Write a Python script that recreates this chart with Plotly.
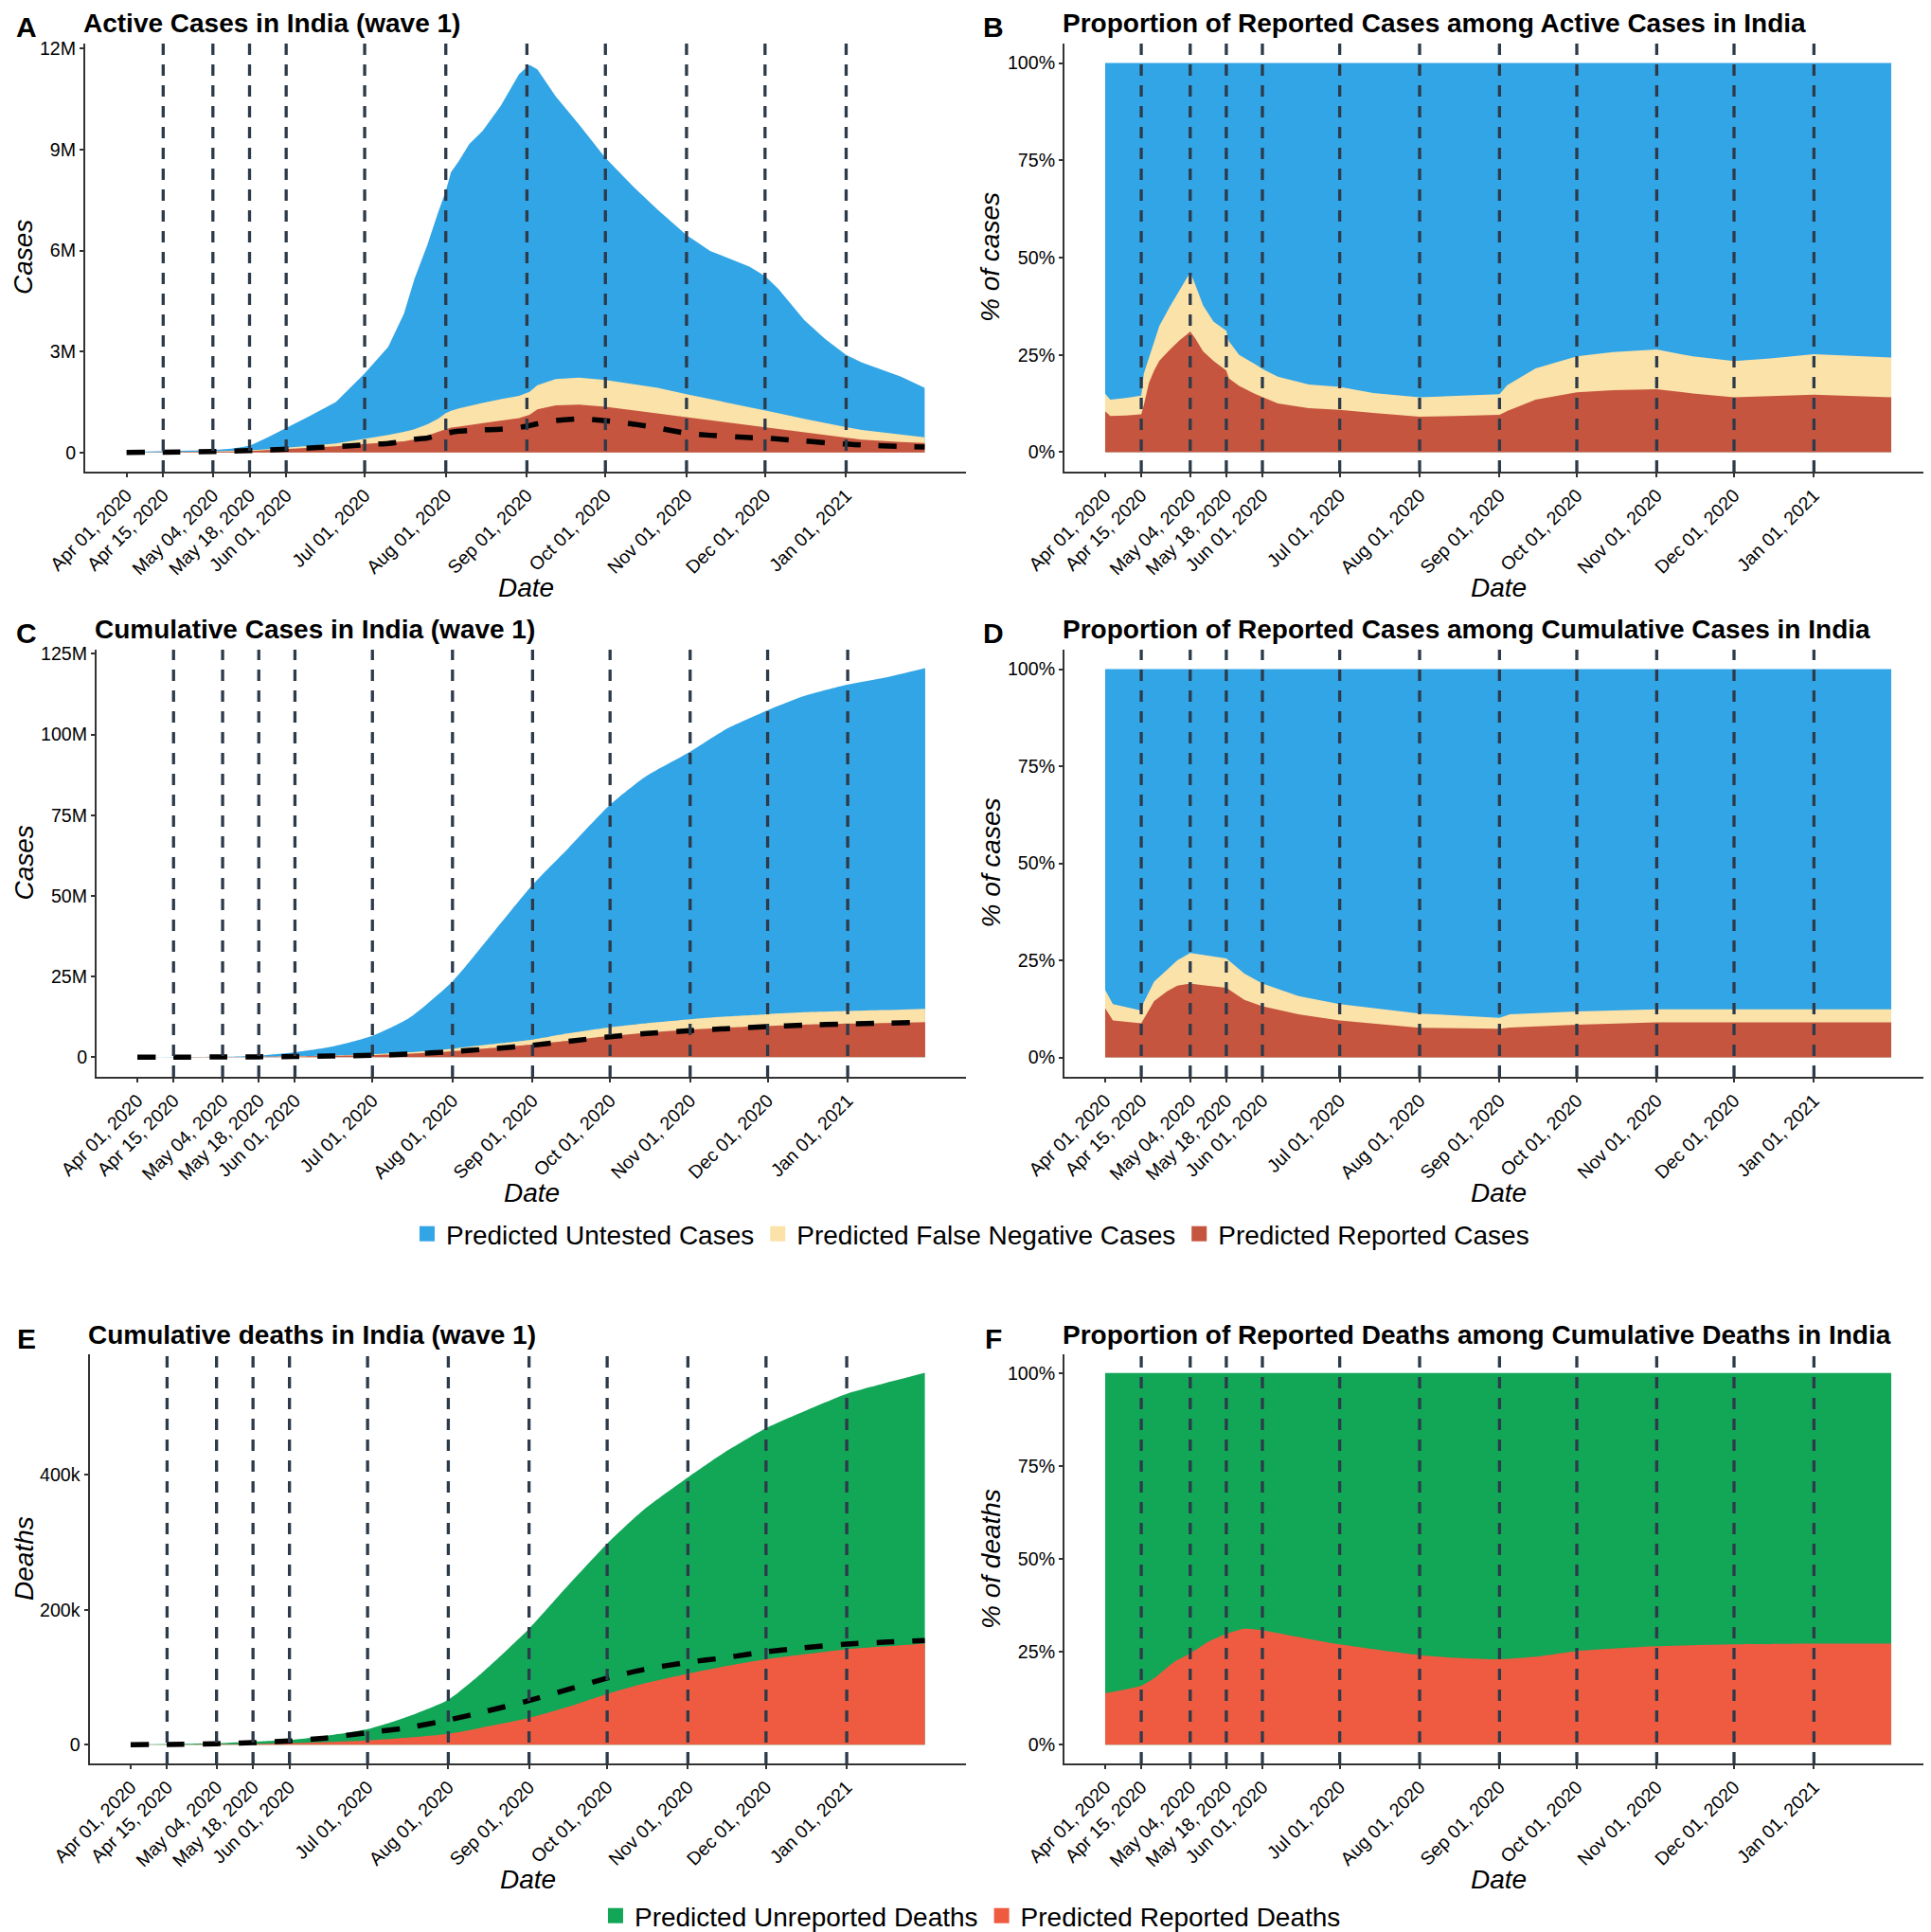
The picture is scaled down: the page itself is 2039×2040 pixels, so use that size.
import plotly.graph_objects as go

W, H = 2039, 2040
FONT = "Liberation Sans, Arial, sans-serif"

# ---------------- axis ticks / event dates ----------------
TICK_DATES = ["2020-04-01", "2020-04-15", "2020-05-04", "2020-05-18", "2020-06-01",
              "2020-07-01", "2020-08-01", "2020-09-01", "2020-10-01", "2020-11-01",
              "2020-12-01", "2021-01-01"]
TICK_LABELS = ["Apr 01, 2020", "Apr 15, 2020", "May 04, 2020", "May 18, 2020", "Jun 01, 2020",
               "Jul 01, 2020", "Aug 01, 2020", "Sep 01, 2020", "Oct 01, 2020", "Nov 01, 2020",
               "Dec 01, 2020", "Jan 01, 2021"]
EVENT_DATES = ["2020-04-15", "2020-05-04", "2020-05-18", "2020-06-01", "2020-07-01",
               "2020-08-01", "2020-09-01", "2020-10-01", "2020-11-01", "2020-12-01",
               "2021-01-01"]
X_RANGE = ["2020-03-16 05:00", "2021-02-15 19:00"]

# ---------------- Panel A: active cases (millions, stack tops) ----------------
DATES_A = ["2020-04-01", "2020-04-15", "2020-05-04", "2020-05-11", "2020-05-18", "2020-05-25",
           "2020-06-01", "2020-06-10", "2020-06-20", "2020-07-01", "2020-07-10", "2020-07-16",
           "2020-07-20", "2020-07-25", "2020-07-29", "2020-08-01", "2020-08-03", "2020-08-06",
           "2020-08-10", "2020-08-15", "2020-08-22", "2020-08-29", "2020-09-02", "2020-09-05",
           "2020-09-12", "2020-09-21", "2020-10-01", "2020-10-12", "2020-10-21", "2020-11-01",
           "2020-11-10", "2020-11-25", "2020-12-01", "2020-12-06", "2020-12-16", "2020-12-24",
           "2021-01-01", "2021-01-07", "2021-01-22", "2021-01-31"]
active_total = [0.015, 0.03, 0.07, 0.11, 0.2, 0.45, 0.72, 1.08, 1.5, 2.35, 3.14, 4.12,
                5.15, 6.18, 7.12, 7.77, 8.33, 8.66, 9.17, 9.55, 10.3, 11.24, 11.52, 11.38,
                10.58, 9.74, 8.75, 7.87, 7.21, 6.46, 5.99, 5.52, 5.24, 4.87, 3.93, 3.37,
                2.90, 2.67, 2.25, 1.92]
active_fn_top = [0.0023, 0.0044, 0.032, 0.04, 0.062, 0.1, 0.152, 0.2, 0.27, 0.40, 0.52, 0.61,
                 0.69, 0.84, 1.0, 1.17, 1.24, 1.31, 1.39, 1.47, 1.58, 1.68, 1.80, 2.0,
                 2.18, 2.22, 2.15, 2.03, 1.92, 1.73, 1.59, 1.36, 1.26, 1.17, 1.0, 0.87,
                 0.75, 0.67, 0.52, 0.45]
active_reported = [0.0016, 0.003, 0.022, 0.025, 0.043, 0.07, 0.1, 0.14, 0.18, 0.25, 0.29, 0.33,
                   0.39, 0.5, 0.61, 0.70, 0.74, 0.77, 0.81, 0.86, 0.93, 1.02, 1.12, 1.28,
                   1.40, 1.42, 1.36, 1.25, 1.16, 1.03, 0.94, 0.80, 0.75, 0.69, 0.59, 0.5,
                   0.42, 0.38, 0.31, 0.28]
active_actual = [0.002, 0.01, 0.029, 0.04, 0.056, 0.075, 0.097, 0.133, 0.17, 0.227, 0.27, 0.33,
                 0.39, 0.43, 0.51, 0.57, 0.60, 0.63, 0.65, 0.67, 0.69, 0.74, 0.80, 0.85,
                 0.95, 1.00, 0.94, 0.84, 0.73, 0.57, 0.51, 0.44, 0.43, 0.40, 0.34, 0.29,
                 0.25, 0.22, 0.18, 0.16]

# ---------------- Panel B: % among active cases ----------------
DATES_B = ["2020-04-01", "2020-04-03", "2020-04-09", "2020-04-15", "2020-04-16", "2020-04-18",
           "2020-04-20", "2020-04-22", "2020-04-26", "2020-04-30", "2020-05-03", "2020-05-04",
           "2020-05-06", "2020-05-09", "2020-05-13", "2020-05-18", "2020-05-19", "2020-05-23",
           "2020-05-29", "2020-06-01", "2020-06-07", "2020-06-19", "2020-07-01", "2020-07-14",
           "2020-08-01", "2020-08-15", "2020-09-01", "2020-09-04", "2020-09-15", "2020-10-01",
           "2020-10-15", "2020-11-01", "2020-11-15", "2020-12-01", "2020-12-15", "2021-01-01",
           "2021-01-31"]
pct_active_fn_top = [15.0, 13.5, 13.9, 14.5, 20.2, 24.3, 28.4, 32.4, 37.3, 41.8, 45.0, 46.2,
                     43.0, 37.7, 33.6, 31.2, 28.5, 25.0, 22.7, 21.4, 19.4, 17.4, 16.8, 15.2,
                     14.1, 14.4, 14.9, 17.2, 21.5, 24.6, 25.7, 26.4, 24.6, 23.4, 24.1, 25.2,
                     24.3]
pct_active_reported = [10.5, 9.3, 9.4, 9.7, 12.1, 17.8, 21.0, 23.5, 26.3, 28.8, 30.4, 31.0,
                       29.2, 25.9, 23.5, 21.0, 19.0, 17.0, 15.0, 14.1, 12.5, 11.3, 10.9, 10.1,
                       9.1, 9.3, 9.6, 10.6, 13.5, 15.4, 15.9, 16.2, 15.1, 14.1, 14.4, 14.8,
                       14.1]

# ---------------- Panel C: cumulative cases (millions, stack tops) ----------------
DATES_C = ["2020-04-01", "2020-04-15", "2020-05-04", "2020-05-18", "2020-06-01", "2020-06-15",
           "2020-07-01", "2020-07-15", "2020-08-01", "2020-08-15", "2020-09-01", "2020-09-15",
           "2020-10-01", "2020-10-15", "2020-11-01", "2020-11-15", "2020-12-01", "2020-12-15",
           "2021-01-01", "2021-01-15", "2021-01-31"]
cum_total = [0.01, 0.06, 0.15, 0.4, 1.5, 3.2, 6.6, 12.0, 23.5, 36.9, 53.4, 64.9,
             78.2, 87.1, 94.7, 101.7, 107.5, 111.9, 115.5, 117.6, 120.6]
cum_fn_top = [0.0017, 0.007, 0.04, 0.10, 0.29, 0.5, 0.9, 1.5, 2.66, 3.95, 5.45, 7.4,
              9.25, 10.5, 11.75, 12.6, 13.3, 13.9, 14.3, 14.6, 15.0]
cum_reported = [0.0013, 0.005, 0.029, 0.072, 0.2, 0.36, 0.63, 1.0, 1.79, 2.77, 3.95, 5.13,
                6.57, 7.58, 8.52, 9.15, 9.68, 10.07, 10.4, 10.58, 10.85]
cum_actual = [0.0019, 0.012, 0.046, 0.10, 0.19, 0.33, 0.59, 0.94, 1.70, 2.53, 3.69, 4.93,
              6.31, 7.31, 8.18, 8.81, 9.46, 9.91, 10.29, 10.53, 10.75]

# ---------------- Panel D: % among cumulative cases ----------------
DATES_D = ["2020-04-01", "2020-04-04", "2020-04-15", "2020-04-16", "2020-04-20", "2020-04-25",
           "2020-04-29", "2020-05-04", "2020-05-18", "2020-05-25", "2020-06-01", "2020-06-15",
           "2020-07-01", "2020-08-01", "2020-09-01", "2020-09-05", "2020-10-01", "2020-11-01",
           "2020-12-01", "2021-01-01", "2021-01-31"]
pct_cum_fn_top = [17.4, 13.7, 12.1, 14.2, 19.5, 22.5, 25.0, 26.9, 25.5, 21.6, 19.0, 15.8,
                  13.7, 11.3, 10.2, 11.1, 11.8, 12.4, 12.4, 12.4, 12.4]
pct_cum_reported = [12.7, 9.5, 8.8, 10.0, 14.5, 17.0, 18.5, 19.0, 17.9, 14.8, 13.2, 11.1,
                    9.5, 7.6, 7.4, 7.7, 8.4, 9.0, 9.0, 9.0, 9.0]

# ---------------- Panel E: cumulative deaths (thousands, stack tops) ----------------
DATES_E = ["2020-04-01", "2020-04-15", "2020-05-04", "2020-05-18", "2020-06-01", "2020-06-15",
           "2020-07-01", "2020-07-15", "2020-08-01", "2020-08-15", "2020-09-01", "2020-09-15",
           "2020-10-01", "2020-10-15", "2020-11-01", "2020-11-15", "2020-12-01", "2020-12-15",
           "2021-01-01", "2021-01-15", "2021-01-31"]
deaths_total = [0.4, 1.0, 2.0, 4.5, 7.0, 13.0, 23.0, 39.6, 66.7, 110.0, 171.8, 231.8,
                297.9, 348.0, 396.0, 433.0, 469.0, 493.0, 520.0, 535.0, 551.0]
deaths_reported = [0.056, 0.16, 0.49, 1.34, 2.16, 3.77, 6.2, 10.1, 16.1, 26.2, 39.5, 54.9,
                   75.1, 90.4, 105.2, 116.0, 126.6, 133.6, 141.4, 145.5, 149.9]
deaths_actual = [0.05, 0.4, 1.4, 3.0, 5.4, 9.9, 17.8, 24.3, 36.5, 49.0, 65.3, 80.8,
                 98.7, 111.3, 122.1, 128.7, 137.6, 143.4, 149.0, 151.7, 154.3]

# ---------------- Panel F: % reported among cumulative deaths ----------------
DATES_F = ["2020-04-01", "2020-04-15", "2020-04-20", "2020-04-25", "2020-04-28", "2020-05-04",
           "2020-05-11", "2020-05-18", "2020-05-25", "2020-06-01", "2020-06-15", "2020-07-01",
           "2020-08-01", "2020-08-15", "2020-09-01", "2020-09-15", "2020-10-01", "2020-11-01",
           "2020-12-01", "2021-01-01", "2021-01-31"]
pct_deaths_reported = [13.9, 15.9, 17.9, 20.8, 22.4, 24.6, 27.7, 29.8, 31.2, 30.8, 29.0, 27.0,
                       24.1, 23.4, 23.0, 23.7, 25.2, 26.5, 27.0, 27.2, 27.2]

# ---------------- styling ----------------
C_UNTESTED = "#32A5E6"
C_FN = "#FBE2A9"
C_REP = "#C5553F"
C_UNREP_D = "#12A657"
C_REP_D = "#EF5B40"
C_VLINE = "#2C3A4A"
C_AXIS = "#333333"

# panel boxes in pixels: (left, right, top, bottom)
PANELS = {
    1: (82, 1012, 38, 490),
    2: (1116, 2032, 38, 490),
    3: (94, 1012, 678, 1129),
    4: (1116, 2032, 678, 1129),
    5: (86.5, 1012, 1422, 1854),
    6: (1116, 2032, 1422, 1854),
}
Y_RANGES = {1: [-0.57, 12.15], 2: [-5, 105], 3: [-6.1, 126.3], 4: [-5, 105],
            5: [-27.8, 578.5], 6: [-5, 105]}
Y_TICKS = {1: ([0, 3, 6, 9, 12], ["0", "3M", "6M", "9M", "12M"]),
           2: ([0, 25, 50, 75, 100], ["0%", "25%", "50%", "75%", "100%"]),
           3: ([0, 25, 50, 75, 100, 125], ["0", "25M", "50M", "75M", "100M", "125M"]),
           4: ([0, 25, 50, 75, 100], ["0%", "25%", "50%", "75%", "100%"]),
           5: ([0, 200, 400], ["0", "200k", "400k"]),
           6: ([0, 25, 50, 75, 100], ["0%", "25%", "50%", "75%", "100%"])}
TITLES = {1: "Active Cases in India (wave 1)",
          2: "Proportion of Reported Cases among Active Cases in India",
          3: "Cumulative Cases in India (wave 1)",
          4: "Proportion of Reported Cases among Cumulative Cases in India",
          5: "Cumulative deaths in India (wave 1)",
          6: "Proportion of Reported Deaths among Cumulative Deaths in India"}
Y_TITLES = {1: "Cases", 2: "% of cases", 3: "Cases", 4: "% of cases", 5: "Deaths", 6: "% of deaths"}
TAGS = {1: "A", 2: "B", 3: "C", 4: "D", 5: "E", 6: "F"}
SMOOTH = {1: False, 2: False, 3: True, 4: False, 5: True, 6: True}


def ax(i, kind):
    return kind if i == 1 else f"{kind}{i}"


fig = go.Figure()


def area(i, x, y, color):
    shape = "spline" if SMOOTH[i] else "linear"
    fig.add_trace(go.Scatter(x=x, y=y, mode="lines",
                             line=dict(width=0, color=color, shape=shape, smoothing=0.6),
                             fill="tozeroy", fillcolor=color, showlegend=False,
                             hoverinfo="skip", xaxis=ax(i, "x"), yaxis=ax(i, "y")))


def reported_line(i, x, y):
    fig.add_trace(go.Scatter(x=x, y=y, mode="lines",
                             line=dict(color="black", width=5.5, dash="19px,19px",
                                       shape="spline", smoothing=0.6),
                             showlegend=False, xaxis=ax(i, "x"), yaxis=ax(i, "y")))


# A
area(1, DATES_A, active_total, C_UNTESTED)
area(1, DATES_A, active_fn_top, C_FN)
area(1, DATES_A, active_reported, C_REP)
reported_line(1, DATES_A, active_actual)
# B
area(2, DATES_B, [100] * len(DATES_B), C_UNTESTED)
area(2, DATES_B, pct_active_fn_top, C_FN)
area(2, DATES_B, pct_active_reported, C_REP)
# C
area(3, DATES_C, cum_total, C_UNTESTED)
area(3, DATES_C, cum_fn_top, C_FN)
area(3, DATES_C, cum_reported, C_REP)
reported_line(3, DATES_C, cum_actual)
# D
area(4, DATES_D, [100] * len(DATES_D), C_UNTESTED)
area(4, DATES_D, pct_cum_fn_top, C_FN)
area(4, DATES_D, pct_cum_reported, C_REP)
# E
area(5, DATES_E, deaths_total, C_UNREP_D)
area(5, DATES_E, deaths_reported, C_REP_D)
reported_line(5, DATES_E, deaths_actual)
# F
area(6, DATES_F, [100] * len(DATES_F), C_UNREP_D)
area(6, DATES_F, pct_deaths_reported, C_REP_D)

# legend entries
for name, col, lg in [("Predicted Untested Cases", C_UNTESTED, "legend"),
                      ("Predicted False Negative Cases", C_FN, "legend"),
                      ("Predicted Reported Cases", C_REP, "legend"),
                      ("Predicted Unreported Deaths", C_UNREP_D, "legend2"),
                      ("Predicted Reported Deaths", C_REP_D, "legend2")]:
    fig.add_trace(go.Scatter(x=[None], y=[None], mode="markers", name=name,
                             marker=dict(symbol="square", size=20, color=col),
                             legend=lg, showlegend=True, xaxis="x", yaxis="y"))

layout = dict(width=W, height=H, margin=dict(l=0, r=0, t=0, b=0, autoexpand=False),
              template="none",
              paper_bgcolor="white", plot_bgcolor="white",
              font=dict(family=FONT, color="black"))

annotations = []
shapes = []
for i, (l, r, t, b) in PANELS.items():
    xd = [l / W, r / W]
    yd = [1 - b / H, 1 - t / H]
    layout[ax(i, "xaxis")] = dict(
        domain=xd, anchor=ax(i, "y"), type="date", range=X_RANGE, automargin=False,
        tickmode="array", tickvals=TICK_DATES, ticktext=TICK_LABELS, tickangle=-45,
        tickfont=dict(size=19.6, family=FONT, color="black"),
        showline=True, linecolor=C_AXIS, linewidth=2, ticks="outside", ticklen=4,
        tickwidth=2, tickcolor=C_AXIS, showgrid=False, zeroline=False)
    tv, tt = Y_TICKS[i]
    layout[ax(i, "yaxis")] = dict(
        domain=yd, anchor=ax(i, "x"), range=Y_RANGES[i], automargin=False,
        tickmode="array", tickvals=tv, ticktext=tt,
        tickfont=dict(size=19.6, family=FONT, color="black"),
        showline=True, linecolor=C_AXIS, linewidth=2, ticks="outside", ticklen=4,
        tickwidth=2, tickcolor=C_AXIS, showgrid=False, zeroline=False)
    for d in EVENT_DATES:
        shapes.append(dict(type="line", xref=ax(i, "x"), yref=ax(i, "y") + " domain",
                           x0=d, x1=d, y0=0, y1=1, layer="above",
                           line=dict(color=C_VLINE, width=3.3, dash="12px,10px")))
    ty = t - 21
    annotations.append(dict(text=TITLES[i], xref="paper", yref="paper", x=(l - 4) / W, y=1 - ty / H,
                            xanchor="left", yanchor="middle", showarrow=False,
                            font=dict(size=28, family=FONT, color="black", weight="bold")))
    tagx = 20 if l < 500 else 1041
    annotations.append(dict(text=TAGS[i], xref="paper", yref="paper", x=tagx / W, y=1 - (t - 17) / H,
                            xanchor="center", yanchor="middle", showarrow=False,
                            font=dict(size=30, family=FONT, color="black", weight="bold")))
    ytx = 17 if l < 500 else 1038
    annotations.append(dict(text=f"<i>{Y_TITLES[i]}</i>", xref="paper", yref="paper",
                            x=ytx / W, y=1 - ((t + b) / 2) / H, textangle=-90,
                            xanchor="center", yanchor="middle", showarrow=False,
                            font=dict(size=28, family=FONT, color="black")))
    annotations.append(dict(text="<i>Date</i>", xref="paper", yref="paper",
                            x=((l + r) / 2) / W, y=1 - (b + 122) / H,
                            xanchor="center", yanchor="middle", showarrow=False,
                            font=dict(size=28, family=FONT, color="black")))

layout["annotations"] = annotations
layout["shapes"] = shapes
layout["legend"] = dict(orientation="h", x=0.499, xanchor="center", y=1 - 1295 / H,
                        yanchor="middle", font=dict(size=28, family=FONT, color="black"),
                        itemwidth=30, bgcolor="rgba(0,0,0,0)", traceorder="normal")
layout["legend2"] = dict(orientation="h", x=0.499, xanchor="center", y=0.0,
                         yanchor="bottom", font=dict(size=28, family=FONT, color="black"),
                         itemwidth=30, bgcolor="rgba(0,0,0,0)", traceorder="normal")
fig.update_layout(**layout)
fig.write_html("out.html")
